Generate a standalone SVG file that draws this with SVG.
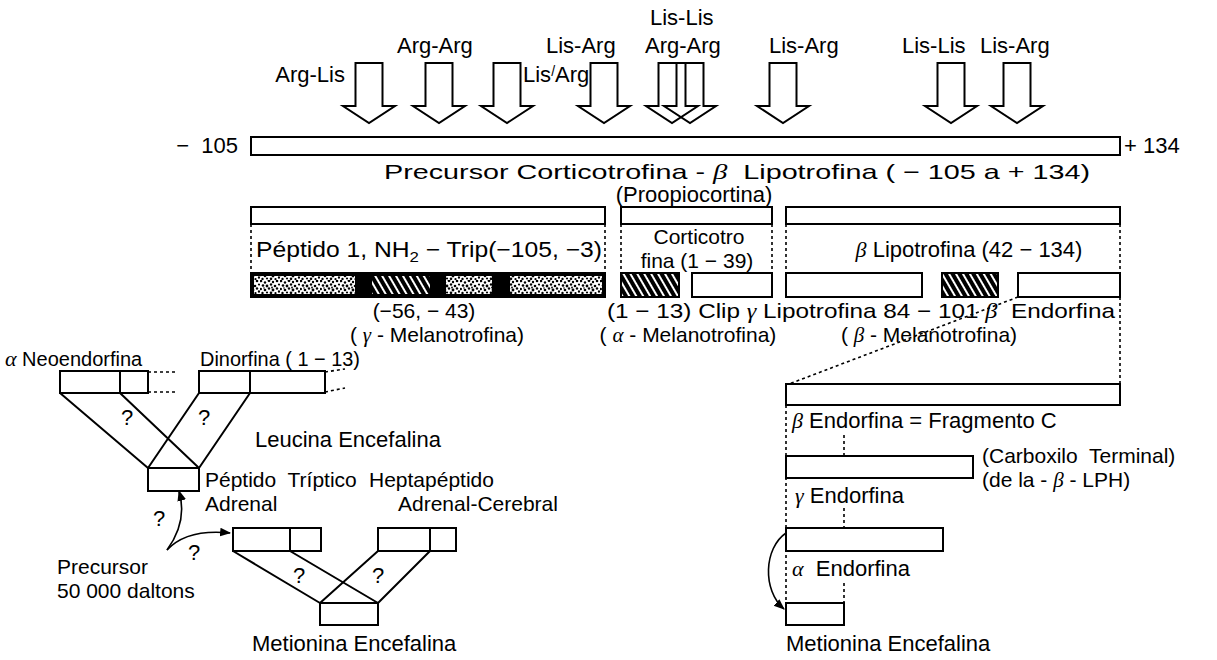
<svg xmlns="http://www.w3.org/2000/svg" width="1217" height="660" viewBox="0 0 1217 660">
<style>
text{font-family:"Liberation Sans",Arial,sans-serif;font-size:22px;fill:#000;white-space:pre}
.s{font-size:21px}
.g{font-family:"Liberation Serif","Times New Roman",serif;font-style:italic}
.bar{fill:#fff;stroke:#000;stroke-width:2}
.ln{stroke:#000;stroke-width:2;fill:none}
.thin{stroke:#000;stroke-width:1.6;fill:none}
.dot{stroke:#000;stroke-width:1.6;stroke-dasharray:3 3;fill:none}
.arw{fill:#fff;stroke:#000;stroke-width:2}
.arwn{fill:none;stroke:#000;stroke-width:2}
.m{text-anchor:middle}
.e{text-anchor:end}
</style>
<defs>
<path id="ar" d="M-13.5,0H13.5V43H26L0,60L-26,43H-13.5Z"/>
<pattern id="stip" width="20" height="14" patternUnits="userSpaceOnUse">
<rect width="20" height="14" fill="#fff"/>
<g fill="#000">
<circle cx="1" cy="1" r="1.3"/><circle cx="5" cy="2.5" r="1.2"/><circle cx="9" cy="0.8" r="1.4"/><circle cx="13" cy="2" r="1.2"/><circle cx="17" cy="1" r="1.3"/>
<circle cx="3" cy="5.5" r="1.3"/><circle cx="7" cy="6" r="1.4"/><circle cx="11" cy="4.5" r="1.2"/><circle cx="15" cy="6" r="1.3"/><circle cx="19" cy="4.5" r="1.1"/>
<circle cx="0.8" cy="9" r="1.2"/><circle cx="5" cy="10" r="1.3"/><circle cx="9" cy="8.5" r="1.2"/><circle cx="13" cy="10" r="1.4"/><circle cx="17" cy="8.5" r="1.2"/>
<circle cx="2.5" cy="13" r="1.2"/><circle cx="7" cy="12.5" r="1.1"/><circle cx="11" cy="12.8" r="1.3"/><circle cx="15.5" cy="13" r="1.1"/><circle cx="19" cy="11.5" r="1.2"/>
<circle cx="12" cy="7.5" r="0.9"/><circle cx="4" cy="8" r="0.8"/>
</g>
</pattern>
<pattern id="hatch" width="6" height="6" patternUnits="userSpaceOnUse" patternTransform="rotate(-30)">
<rect width="6" height="6" fill="#000"/>
<rect x="0" width="2" height="6" fill="#fff"/>
</pattern>
<marker id="ah" viewBox="0 0 10 10" refX="9" refY="5" markerWidth="11" markerHeight="11" markerUnits="userSpaceOnUse" orient="auto"><path d="M0,1L10,5L0,9Z" fill="#000"/></marker>
</defs>
<rect width="1217" height="660" fill="#fff"/>

<g id="cleavage-sites">
<use href="#ar" x="369" y="63" class="arw"/>
<use href="#ar" x="439" y="63" class="arw"/>
<use href="#ar" x="507" y="63" class="arw"/>
<use href="#ar" x="604" y="63" class="arw"/>
<use href="#ar" x="672" y="63" class="arwn"/>
<use href="#ar" x="690" y="63" class="arwn"/>
<use href="#ar" x="783" y="63" class="arw"/>
<use href="#ar" x="951" y="63" class="arw"/>
<use href="#ar" x="1017" y="63" class="arw"/>
<text x="345" y="82" class="e">Arg-Lis</text>
<text x="397" y="53">Arg-Arg</text>
<text x="523" y="82">Lis<tspan font-size="14" dy="-6">/</tspan><tspan dy="6">Arg</tspan></text>
<text x="546" y="53">Lis-Arg</text>
<text x="650" y="25">Lis-Lis</text>
<text x="645" y="53">Arg-Arg</text>
<text x="769" y="53">Lis-Arg</text>
<text x="902" y="53">Lis-Lis</text>
<text x="980" y="53">Lis-Arg</text>
</g>

<g id="precursor">
<rect class="bar" x="251" y="137" width="869" height="18"/>
<text x="238" y="153" class="e">−  105</text>
<text x="1124" y="153">+ 134</text>
<text x="384" y="179" class="s" textLength="706" lengthAdjust="spacingAndGlyphs">Precursor Corticotrofina - <tspan class="g">β</tspan>  Lipotrofina ( − 105 a + 134)</text>
<text x="694" y="202" class="m" font-size="20">(Proopiocortina)</text>
</g>

<g id="connectors">
<path class="dot" d="M251,224V273M605,224V273M621,224V273M772,224V273M786,224V273M1120,224V273"/>
<path class="dot" d="M1120,297V384M1018,297L789,384"/>
<path class="dot" d="M786,405V603M844,435V456M844,508V528M844,583V603"/>
<path class="dot" d="M148,372H176M148,392H176M325,372L345,369M325,392L345,388"/>
<path class="ln" d="M60,393L148,468M120,393L199,468M199,393L148,468M250,393L199,468"/>
<path class="ln" d="M233,551L320,603M290,551L378,603M378,551L320,603M430,551L378,603"/>
<path class="thin" marker-end="url(#ah)" d="M167,550C178,535 186,515 179,491"/>
<path class="thin" marker-end="url(#ah)" d="M167,550C180,536 200,530 230,533"/>
<path class="thin" marker-end="url(#ah)" d="M786,533C764,548 762,590 784,609"/>
</g>

<g id="peptide1">
<rect class="bar" x="251" y="207" width="354" height="17"/>
<text x="256" y="257" textLength="346" lengthAdjust="spacingAndGlyphs">Péptido 1, NH<tspan font-size="15" dy="5">2</tspan><tspan dy="-5"> − Trip(−105, −3)</tspan></text>
<rect x="251" y="273" width="354" height="24" fill="#000"/>
<rect x="254" y="276" width="101" height="18" fill="url(#stip)"/>
<rect x="372" y="276" width="58" height="18" fill="url(#hatch)"/>
<rect x="446" y="276" width="46" height="18" fill="url(#stip)"/>
<rect x="510" y="276" width="92" height="18" fill="url(#stip)"/>
<rect x="251" y="273" width="354" height="24" fill="none" stroke="#000" stroke-width="2"/>
<text x="424" y="318" class="m s">(−56, − 43)</text>
<text x="437" y="342" class="m s">( <tspan class="g">γ</tspan> - Melanotrofina)</text>
</g>

<g id="corticotrofina">
<rect class="bar" x="621" y="207" width="151" height="17"/>
<text x="699" y="244" class="m s">Corticotro</text>
<text x="697" y="268" class="m s">fina (1 − 39)</text>
<rect x="621" y="273" width="58" height="24" fill="url(#hatch)" stroke="#000" stroke-width="2"/>
<rect class="bar" x="692" y="273" width="80" height="24"/>
<text x="688" y="342" class="m s">( <tspan class="g">α</tspan> - Melanotrofina)</text>
</g>

<g id="lipotrofina">
<rect class="bar" x="786" y="207" width="334" height="17"/>
<text x="969" y="257" class="m"><tspan class="g">β</tspan> Lipotrofina (42 − 134)</text>
<rect class="bar" x="786" y="273" width="136" height="24"/>
<rect x="942" y="273" width="56" height="24" fill="url(#hatch)" stroke="#000" stroke-width="2"/>
<rect class="bar" x="1018" y="273" width="102" height="24"/>
<text x="607" y="318" class="s" textLength="508" lengthAdjust="spacingAndGlyphs">(1 − 13) Clip <tspan class="g">γ</tspan> Lipotrofina 84 − 101 <tspan class="g">β</tspan>  Endorfina</text>
<text x="929" y="342" class="m s">( <tspan class="g">β</tspan> - Melanotrofina)</text>
</g>

<g id="leucina">
<text x="5" y="366" class="s"><tspan class="g" font-size="22">α</tspan><tspan font-size="20"> Neoendorfina</tspan></text>
<text x="200" y="366" class="s" textLength="160" lengthAdjust="spacingAndGlyphs">Dinorfina ( 1 − 13)</text>
<rect class="bar" x="60" y="371" width="88" height="22"/>
<path class="ln" d="M120,371V393"/>
<rect class="bar" x="199" y="371" width="126" height="22"/>
<path class="ln" d="M250,371V393"/>
<rect class="bar" x="148" y="468" width="51" height="23"/>
<text x="127" y="425" class="m">?</text>
<text x="204" y="425" class="m">?</text>
<text x="255" y="447">Leucina Encefalina</text>
</g>

<g id="metionina-left">
<text x="205" y="487" class="s">Péptido  Tríptico</text>
<text x="369" y="487" class="s">Heptapéptido</text>
<text x="205" y="511" class="s">Adrenal</text>
<text x="398" y="511" class="s">Adrenal-Cerebral</text>
<text x="159" y="526" class="m">?</text>
<text x="194" y="560" class="m">?</text>
<text x="57" y="574" class="s">Precursor</text>
<text x="57" y="598" class="s">50 000 daltons</text>
<rect class="bar" x="233" y="528" width="88" height="23"/>
<path class="ln" d="M290,528V551"/>
<rect class="bar" x="378" y="528" width="78" height="23"/>
<path class="ln" d="M430,528V551"/>
<rect class="bar" x="320" y="603" width="58" height="22"/>
<text x="299" y="583" class="m">?</text>
<text x="378" y="583" class="m">?</text>
<text x="252" y="651">Metionina Encefalina</text>
</g>

<g id="endorfinas">
<rect class="bar" x="786" y="384" width="334" height="21"/>
<text x="792" y="428"><tspan class="g">β</tspan> Endorfina = Fragmento C</text>
<rect class="bar" x="786" y="456" width="187" height="22"/>
<text x="982" y="463" class="s">(Carboxilo  Terminal)</text>
<text x="982" y="487" class="s">(de la - <tspan class="g">β</tspan> - LPH)</text>
<text x="795" y="503"><tspan class="g">γ</tspan> Endorfina</text>
<rect class="bar" x="786" y="528" width="157" height="23"/>
<text x="792" y="576"><tspan class="g">α</tspan>  Endorfina</text>
<rect class="bar" x="786" y="603" width="58" height="22"/>
<text x="786" y="651">Metionina Encefalina</text>
</g>
</svg>
